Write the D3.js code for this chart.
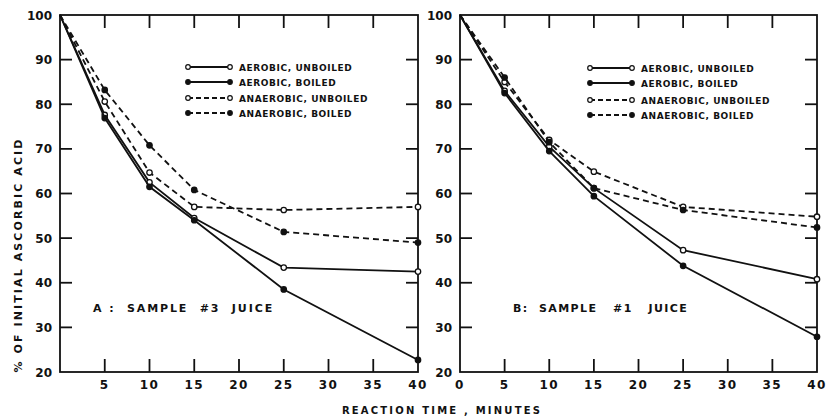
<!DOCTYPE html>
<html>
<head>
<meta charset="utf-8">
<script src="https://cdn.jsdelivr.net/npm/d3@7"></script>
<style>
  body { margin: 0; background: #fff; }
  text { font-family: "DejaVu Sans", sans-serif; font-weight: bold; fill: #111; }
</style>
</head>
<body>
<script>
const width = 829, height = 418;

const times = [0, 5, 10, 15, 25, 40];
const seriesNames = ["AEROBIC , UNBOILED", "AEROBIC , BOILED", "ANAEROBIC , UNBOILED", "ANAEROBIC , BOILED"];
const seriesDashed = [false, false, true, true];
const seriesFilled = [false, true, false, true];

// panel A: sample #3 juice
const aAerobicUnboiled = [100, 77.6, 62.5, 54.5, 43.4, 42.5];
const aAerobicBoiled = [100, 76.9, 61.5, 54.0, 38.5, 22.7];
const aAnaerobicUnboiled = [100, 80.6, 64.7, 57.0, 56.3, 57.0];
const aAnaerobicBoiled = [100, 83.2, 70.8, 60.8, 51.4, 49.0];

// panel B: sample #1 juice
const bAerobicUnboiled = [100, 83.0, 70.5, 61.2, 47.3, 40.8];
const bAerobicBoiled = [100, 82.5, 69.5, 59.4, 43.8, 27.9];
const bAnaerobicUnboiled = [100, 85.0, 72.0, 64.9, 57.0, 54.8];
const bAnaerobicBoiled = [100, 86.0, 71.5, 61.2, 56.3, 52.4];

const xTicks = [0, 5, 10, 15, 20, 25, 30, 35, 40];
const yTicks = [20, 30, 40, 50, 60, 70, 80, 90, 100];

const panels = [
  { label: "A :  SAMPLE  #3  JUICE", left: 60, right: 418, showZero: false,
    series: [aAerobicUnboiled, aAerobicBoiled, aAnaerobicUnboiled, aAnaerobicBoiled],
    legendX: 188, legendY: [67, 82, 98, 113], labelX: 93, labelSpacing: 1.9 },
  { label: "B:  SAMPLE   #1   JUICE", left: 460, right: 817, showZero: true,
    series: [bAerobicUnboiled, bAerobicBoiled, bAnaerobicUnboiled, bAnaerobicBoiled],
    legendX: 590, legendY: [68, 83, 100, 115], labelX: 513, labelSpacing: 1.4 }
];

const plotTop = 15, plotBottom = 372;
const ink = "#111";

const svg = d3.select("body").append("svg")
  .attr("width", width).attr("height", height);

const y = d3.scaleLinear().domain([20, 100]).range([plotBottom, plotTop]);

panels.forEach(p => {
  const x = d3.scaleLinear().domain([0, 40]).range([p.left, p.right]);
  const g = svg.append("g");

  // frame
  g.append("rect")
    .attr("x", p.left).attr("y", plotTop)
    .attr("width", p.right - p.left).attr("height", plotBottom - plotTop)
    .attr("fill", "none").attr("stroke", ink).attr("stroke-width", 1.8);

  // inward ticks on all four sides
  const innerX = xTicks.filter(t => t > 0 && t < 40);
  const innerY = yTicks.filter(t => t > 20 && t < 100);
  const tk = 13;
  g.selectAll(".xb").data(innerX).join("line")
    .attr("x1", d => x(d)).attr("x2", d => x(d))
    .attr("y1", plotBottom).attr("y2", plotBottom - tk)
    .attr("stroke", ink).attr("stroke-width", 1.8);
  g.selectAll(".xt").data(innerX).join("line")
    .attr("x1", d => x(d)).attr("x2", d => x(d))
    .attr("y1", plotTop).attr("y2", plotTop + tk)
    .attr("stroke", ink).attr("stroke-width", 1.8);
  g.selectAll(".yl").data(innerY).join("line")
    .attr("x1", p.left).attr("x2", p.left + 12)
    .attr("y1", d => y(d)).attr("y2", d => y(d))
    .attr("stroke", ink).attr("stroke-width", 1.8);
  g.selectAll(".yr").data(innerY).join("line")
    .attr("x1", p.right).attr("x2", p.right - 12)
    .attr("y1", d => y(d)).attr("y2", d => y(d))
    .attr("stroke", ink).attr("stroke-width", 1.8);

  // tick labels
  g.selectAll(".xlab").data(xTicks.filter(t => p.showZero || t > 0)).join("text")
    .attr("x", d => x(d)).attr("y", 389)
    .attr("text-anchor", "middle").attr("font-size", 12)
    .attr("letter-spacing", 1.5)
    .text(d => d);
  g.selectAll(".ylab").data(yTicks).join("text")
    .attr("x", p.left - 8).attr("y", d => y(d) + 4.5)
    .attr("text-anchor", "end").attr("font-size", 12)
    .text(d => d);

  // lines + markers
  const line = d3.line().x((d, i) => x(times[i])).y(d => y(d));
  p.series.forEach((vals, si) => {
    g.append("path")
      .attr("d", line(vals))
      .attr("fill", "none").attr("stroke", ink)
      .attr("stroke-width", 1.8)
      .attr("stroke-dasharray", seriesDashed[si] ? "6,4" : null);
    g.selectAll(".pt" + si).data(vals.slice(1)).join("circle")
      .attr("cx", (d, i) => x(times[i + 1])).attr("cy", d => y(d))
      .attr("r", 2.7)
      .attr("fill", seriesFilled[si] ? ink : "#fff")
      .attr("stroke", ink).attr("stroke-width", 1.3);
  });

  // legend
  seriesNames.forEach((name, si) => {
    const ly = p.legendY[si];
    g.append("line")
      .attr("x1", p.legendX).attr("x2", p.legendX + 42)
      .attr("y1", ly).attr("y2", ly)
      .attr("stroke", ink).attr("stroke-width", 1.8)
      .attr("stroke-dasharray", seriesDashed[si] ? "5,3" : null);
    [p.legendX, p.legendX + 42].forEach(cx => {
      g.append("circle").attr("cx", cx).attr("cy", ly).attr("r", 2.3)
        .attr("fill", seriesFilled[si] ? ink : "#fff")
        .attr("stroke", ink).attr("stroke-width", 1.2);
    });
    g.append("text")
      .attr("x", p.legendX + 51).attr("y", ly + 3.5)
      .attr("font-size", 9).attr("letter-spacing", 0.6)
      .style("font-weight", 600)
      .text(name.replace(" ,", ","));
  });

  // panel label
  g.append("text")
    .attr("x", p.labelX).attr("y", 312)
    .attr("font-size", 11).attr("letter-spacing", p.labelSpacing)
    .style("white-space", "pre")
    .text(p.label);
});

// axis titles
svg.append("text")
  .attr("x", 442).attr("y", 414)
  .attr("text-anchor", "middle").attr("font-size", 10)
  .attr("letter-spacing", 2.2)
  .text("REACTION TIME , MINUTES");

svg.append("text")
  .attr("transform", "translate(22,255) rotate(-90)")
  .attr("text-anchor", "middle").attr("font-size", 11)
  .attr("letter-spacing", 2.1)
  .text("% OF INITIAL ASCORBIC ACID");
</script>
</body>
</html>
